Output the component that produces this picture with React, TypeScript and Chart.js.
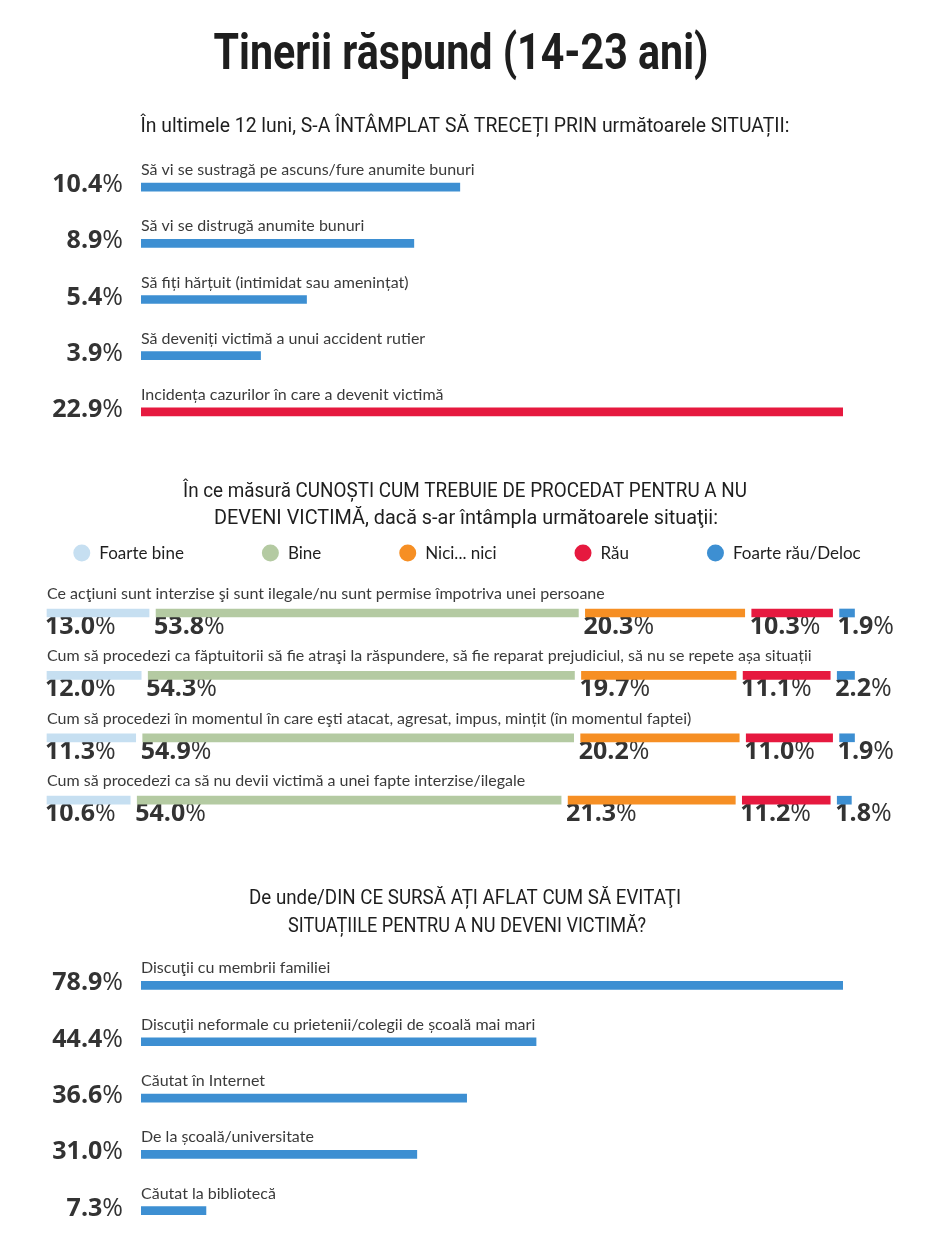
import React, { useEffect, useRef } from "react";
import { Chart, registerables } from "chart.js";

Chart.register(...registerables);

// ---------- data ----------
const TITLE = "Tinerii răspund (14-23 ani)";

const HEADING_1 = "În ultimele 12 luni, S-A ÎNTÂMPLAT SĂ TRECEȚI PRIN următoarele SITUAȚII:";
const situationLabels = [
  "Să vi se sustragă pe ascuns/fure anumite bunuri",
  "Să vi se distrugă anumite bunuri",
  "Să fiți hărțuit (intimidat sau amenințat)",
  "Să deveniți victimă a unui accident rutier",
  "Incidența cazurilor în care a devenit victimă",
];
const situationValues = [10.4, 8.9, 5.4, 3.9, 22.9];

const HEADING_2 = [
  "În ce măsură CUNOȘTI CUM TREBUIE DE PROCEDAT PENTRU A NU",
  "DEVENI VICTIMĂ, dacă s-ar întâmpla următoarele situaţii:",
];
const knowledgeQuestions = [
  "Ce acţiuni sunt interzise şi sunt ilegale/nu sunt permise împotriva unei persoane",
  "Cum să procedezi ca făptuitorii să fie atraşi la răspundere, să fie reparat prejudiciul, să nu se repete așa situații",
  "Cum să procedezi în momentul în care eşti atacat, agresat, impus, mințit (în momentul faptei)",
  "Cum să procedezi ca să nu devii victimă a unei fapte interzise/ilegale",
];
const answerLabels = ["Foarte bine", "Bine", "Nici... nici", "Rău", "Foarte rău/Deloc"];
const foarteBine = [13.0, 12.0, 11.3, 10.6];
const bine = [53.8, 54.3, 54.9, 54.0];
const niciNici = [20.3, 19.7, 20.2, 21.3];
const rau = [10.3, 11.1, 11.0, 11.2];
const foarteRau = [1.9, 2.2, 1.9, 1.8];

const HEADING_3 = [
  "De unde/DIN CE SURSĂ AȚI AFLAT CUM SĂ EVITAŢI",
  "SITUAȚIILE PENTRU A NU DEVENI VICTIMĂ?",
];
const sourceLabels = [
  "Discuţii cu membrii familiei",
  "Discuţii neformale cu prietenii/colegii de școală mai mari",
  "Căutat în Internet",
  "De la școală/universitate",
  "Căutat la bibliotecă",
];
const sourceValues = [78.9, 44.4, 36.6, 31.0, 7.3];

// ---------- styles ----------
const BLUE = "#3d8fd2";
const RED = "#e6193f";
const ANSWER_COLORS = ["#c6dff1", "#b4caa2", "#f68f24", "#e6193f", "#3d8fd2"];
const TEXT_DARK = "#1e1e1e";
const TEXT_LABEL = "#3a3a3a";
const NUM_COLOR = "#333333";
const LABEL_FONT = "16px Lato, 'Open Sans', sans-serif";
const LEGEND_FONT = "17px Lato, 'Open Sans', sans-serif";
const NUM_BOLD = "bold 25px 'Open Sans', sans-serif";
const NUM_REG = "25px 'Open Sans', sans-serif";
const HEAD_FONT = "21px 'Liberation Sans Narrow', Roboto, sans-serif";
const TITLE_FONT = "bold 50px 'Liberation Sans Narrow', Roboto, sans-serif";
const SEG_GAP = 7;

function fitText(ctx: CanvasRenderingContext2D, text: string, cx: number, y: number, font: string, color: string, width: number) {
  ctx.save();
  ctx.font = font;
  ctx.fillStyle = color;
  ctx.textBaseline = "alphabetic";
  ctx.textAlign = "center";
  const w = ctx.measureText(text).width;
  const sx = width / w;
  ctx.translate(cx, y);
  ctx.scale(sx, 1);
  ctx.fillText(text, 0, 0);
  ctx.restore();
}

function drawPercent(ctx: CanvasRenderingContext2D, v: number, x: number, y: number, align: "left" | "right") {
  const num = v.toFixed(1);
  ctx.save();
  ctx.textBaseline = "alphabetic";
  ctx.textAlign = "left";
  ctx.fillStyle = NUM_COLOR;
  ctx.font = NUM_BOLD;
  const wn = ctx.measureText(num).width;
  ctx.font = NUM_REG;
  const wp = ctx.measureText("%").width;
  const start = align === "right" ? x - wn - wp : x;
  ctx.font = NUM_BOLD;
  ctx.fillText(num, start, y);
  ctx.font = NUM_REG;
  ctx.fillText("%", start + wn, y);
  ctx.restore();
}

function simpleBarLabels(labels: string[], values: number[]) {
  return {
    id: "simpleBarLabels",
    afterDatasetsDraw(chart: any) {
      const ctx = chart.ctx as CanvasRenderingContext2D;
      const meta = chart.getDatasetMeta(0);
      meta.data.forEach((el: any, i: number) => {
        ctx.save();
        ctx.font = LABEL_FONT;
        ctx.fillStyle = TEXT_LABEL;
        ctx.textAlign = "left";
        ctx.textBaseline = "alphabetic";
        ctx.fillText(labels[i], el.base, el.y - 12);
        ctx.restore();
        drawPercent(ctx, values[i], el.base - 18, el.y + 5, "right");
      });
    },
  };
}

function headingPlugin(items: { text: string; cx: number; y: number; font: string; color: string; width: number }[]) {
  return {
    id: "headings",
    afterDraw(chart: any) {
      const ctx = chart.ctx as CanvasRenderingContext2D;
      items.forEach((it) => fitText(ctx, it.text, it.cx, it.y, it.font, it.color, it.width));
    },
  };
}

const segmentGapPlugin = {
  id: "segmentGap",
  afterDatasetsUpdate(chart: any) {
    chart.data.datasets.forEach((_: any, i: number) => {
      chart.getDatasetMeta(i).data.forEach((el: any) => {
        el.x += i * SEG_GAP;
        el.base += i * SEG_GAP;
      });
    });
  },
};

const stackedLabelsPlugin = {
  id: "stackedLabels",
  beforeDatasetsDraw(chart: any) {
    const ctx = chart.ctx as CanvasRenderingContext2D;
    const first = chart.getDatasetMeta(0).data;
    first.forEach((el: any, i: number) => {
      ctx.save();
      ctx.font = LABEL_FONT;
      ctx.fillStyle = TEXT_LABEL;
      ctx.textAlign = "left";
      ctx.textBaseline = "alphabetic";
      ctx.fillText(knowledgeQuestions[i], chart.chartArea.left, el.y - 14);
      ctx.restore();
    });
    chart.data.datasets.forEach((ds: any, d: number) => {
      chart.getDatasetMeta(d).data.forEach((el: any, i: number) => {
        drawPercent(ctx, ds.data[i], Math.min(el.base, el.x) - 2, el.y + 21, "left");
      });
    });
  },
  afterDraw(chart: any) {
    // legend
    const ctx = chart.ctx as CanvasRenderingContext2D;
    ctx.save();
    ctx.font = LEGEND_FONT;
    const r = 8.5;
    const textOff = 17.5;
    const gap = 78;
    const widths = answerLabels.map((l) => r + textOff + ctx.measureText(l).width);
    const total = widths.reduce((a, b) => a + b, 0) + gap * (widths.length - 1);
    let x = 467 - total / 2;
    const cy = 553 - 440;
    answerLabels.forEach((l, i) => {
      ctx.fillStyle = ANSWER_COLORS[i];
      ctx.beginPath();
      ctx.arc(x + r, cy, r, 0, Math.PI * 2);
      ctx.fill();
      ctx.fillStyle = TEXT_DARK;
      ctx.textAlign = "left";
      ctx.textBaseline = "alphabetic";
      ctx.fillText(l, x + r + textOff, cy + 6);
      x += widths[i] + gap;
    });
    ctx.restore();
  },
};

const baseOptions = (padding: any, xMax: number, stacked: boolean) => ({
  indexAxis: "y" as const,
  responsive: false,
  maintainAspectRatio: false,
  animation: false as const,
  layout: { padding },
  scales: {
    x: { display: false, min: 0, max: xMax, stacked },
    y: { display: false, stacked },
  },
  plugins: {
    legend: { display: false },
    tooltip: { enabled: false },
    title: { display: false },
  },
});

export default function App() {
  const refA = useRef<HTMLCanvasElement>(null);
  const refB = useRef<HTMLCanvasElement>(null);
  const refC = useRef<HTMLCanvasElement>(null);

  useEffect(() => {
    const charts: Chart[] = [];
    // Section 1 (canvas top = 0)
    charts.push(
      new Chart(refA.current as HTMLCanvasElement, {
        type: "bar",
        data: {
          labels: situationLabels,
          datasets: [
            {
              data: situationValues,
              backgroundColor: situationValues.map((_, i) => (i === situationValues.length - 1 ? RED : BLUE)),
              barThickness: 8,
              borderWidth: 0,
            },
          ],
        },
        options: baseOptions({ left: 141, right: 87, top: 159, bottom: 0 }, Math.max(...situationValues), false) as any,
        plugins: [
          simpleBarLabels(situationLabels, situationValues),
          headingPlugin([
            { text: TITLE, cx: 461, y: 69, font: TITLE_FONT, color: TEXT_DARK, width: 495 },
            { text: HEADING_1, cx: 465, y: 132, font: HEAD_FONT, color: TEXT_DARK, width: 649 },
          ]),
        ] as any,
      })
    );
    // Section 2 (canvas top = 440)
    const series = [foarteBine, bine, niciNici, rau, foarteRau];
    charts.push(
      new Chart(refB.current as HTMLCanvasElement, {
        type: "bar",
        data: {
          labels: knowledgeQuestions,
          datasets: series.map((s, i) => ({
            label: answerLabels[i],
            data: s,
            backgroundColor: ANSWER_COLORS[i],
            barThickness: 8,
            borderWidth: 0,
            clip: false as any,
          })),
        },
        options: baseOptions({ left: 47, right: 98, top: 141.8, bottom: 8.6 }, 100, true) as any,
        plugins: [
          segmentGapPlugin,
          stackedLabelsPlugin,
          headingPlugin([
            { text: HEADING_2[0], cx: 465, y: 497 - 440, font: HEAD_FONT, color: TEXT_DARK, width: 564 },
            { text: HEADING_2[1], cx: 466, y: 524 - 440, font: HEAD_FONT, color: TEXT_DARK, width: 504 },
          ]),
        ] as any,
      })
    );
    // Section 3 (canvas top = 850)
    charts.push(
      new Chart(refC.current as HTMLCanvasElement, {
        type: "bar",
        data: {
          labels: sourceLabels,
          datasets: [
            {
              data: sourceValues,
              backgroundColor: BLUE,
              barThickness: 8,
              borderWidth: 0,
            },
          ],
        },
        options: baseOptions({ left: 141, right: 87, top: 107.3, bottom: 4.2 }, Math.max(...sourceValues), false) as any,
        plugins: [
          simpleBarLabels(sourceLabels, sourceValues),
          headingPlugin([
            { text: HEADING_3[0], cx: 465, y: 904 - 850, font: HEAD_FONT, color: TEXT_DARK, width: 432 },
            { text: HEADING_3[1], cx: 467, y: 932 - 850, font: HEAD_FONT, color: TEXT_DARK, width: 358 },
          ]),
        ] as any,
      })
    );
    return () => charts.forEach((c) => c.destroy());
  }, []);

  return (
    <div style={{ position: "absolute", left: 0, top: 0, width: 930, height: 1243, background: "#ffffff", overflow: "hidden" }}>
      <canvas ref={refA} width={930} height={440} style={{ position: "absolute", left: 0, top: 0, width: 930, height: 440 }} />
      <canvas ref={refB} width={930} height={400} style={{ position: "absolute", left: 0, top: 440, width: 930, height: 400 }} />
      <canvas ref={refC} width={930} height={393} style={{ position: "absolute", left: 0, top: 850, width: 930, height: 393 }} />
    </div>
  );
}
